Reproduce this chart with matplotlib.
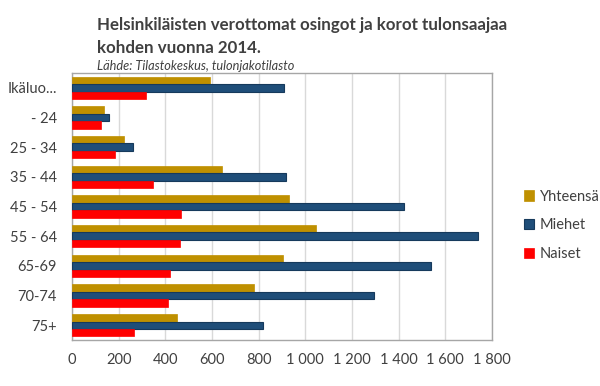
import matplotlib.pyplot as plt
import numpy as np

plt.rcParams['font.family'] = ['Lato', 'DejaVu Sans']

# Data
categories = ['Ikäluo...', '- 24', '25 - 34', '35 - 44', '45 - 54', '55 - 64', '65-69', '70-74', '75+']
yhteensa = [592, 139, 224, 642, 932, 1044, 906, 782, 451]
miehet = [908, 160, 262, 918, 1424, 1738, 1540, 1294, 819]
naiset = [318, 125, 185, 348, 465, 461, 420, 412, 267]

xticks = [0, 200, 400, 600, 800, 1000, 1200, 1400, 1600, 1800]
xticklabels = ['0', '200', '400', '600', '800', '1 000', '1 200', '1 400', '1 600', '1 800']

fig = plt.figure(figsize=(6, 3.86), dpi=100)
ax = fig.add_axes([0.12, 0.119, 0.70, 0.692])

y = np.arange(len(categories))
h = 0.25
ax.barh(y - h, yhteensa, height=h, color='#BF9000', edgecolor='#BF9000', linewidth=0.5, label='Yhteensä', zorder=3)
ax.barh(y, miehet, height=h, color='#1F4E79', edgecolor='#163a5c', linewidth=0.8, label='Miehet', zorder=3)
ax.barh(y + h, naiset, height=h, color='#FF0000', edgecolor='#FF0000', linewidth=0.5, label='Naiset', zorder=3)

ax.set_ylim(len(categories) - 0.5, -0.5)
ax.set_xlim(0, 1800)
ax.set_yticks(y)
ax.set_yticklabels(categories, fontsize=10.5, color='#404040')
ax.set_xticks(xticks)
ax.set_xticklabels(xticklabels, fontsize=10.5, color='#404040')
ax.tick_params(axis='y', length=0, pad=11)
ax.tick_params(axis='x', length=0, pad=9)
ax.grid(axis='x', color='#d9d9d9', linewidth=1, zorder=0)

for side in ['top', 'right', 'bottom', 'left']:
    ax.spines[side].set_color('#a6a6a6')
    ax.spines[side].set_linewidth(1)

fig.text(0.162, 0.934, 'Helsinkiläisten verottomat osingot ja korot tulonsaajaa',
         fontsize=12.2, fontweight='bold', color='#404040', va='center')
fig.text(0.162, 0.875, 'kohden vuonna 2014.',
         fontsize=12.2, fontweight='bold', color='#404040', va='center')
fig.text(0.162, 0.830, 'Lähde: Tilastokeskus, tulonjakotilasto',
         fontsize=9.2, style='italic', color='#404040', va='center')

ax.legend(loc='center left', bbox_to_anchor=(1.045, 0.43), frameon=False,
          fontsize=10.5, labelcolor='#404040', handlelength=0.7, handleheight=0.7,
          labelspacing=1.0, handletextpad=0.4)

fig.savefig('out.png', dpi=100)
